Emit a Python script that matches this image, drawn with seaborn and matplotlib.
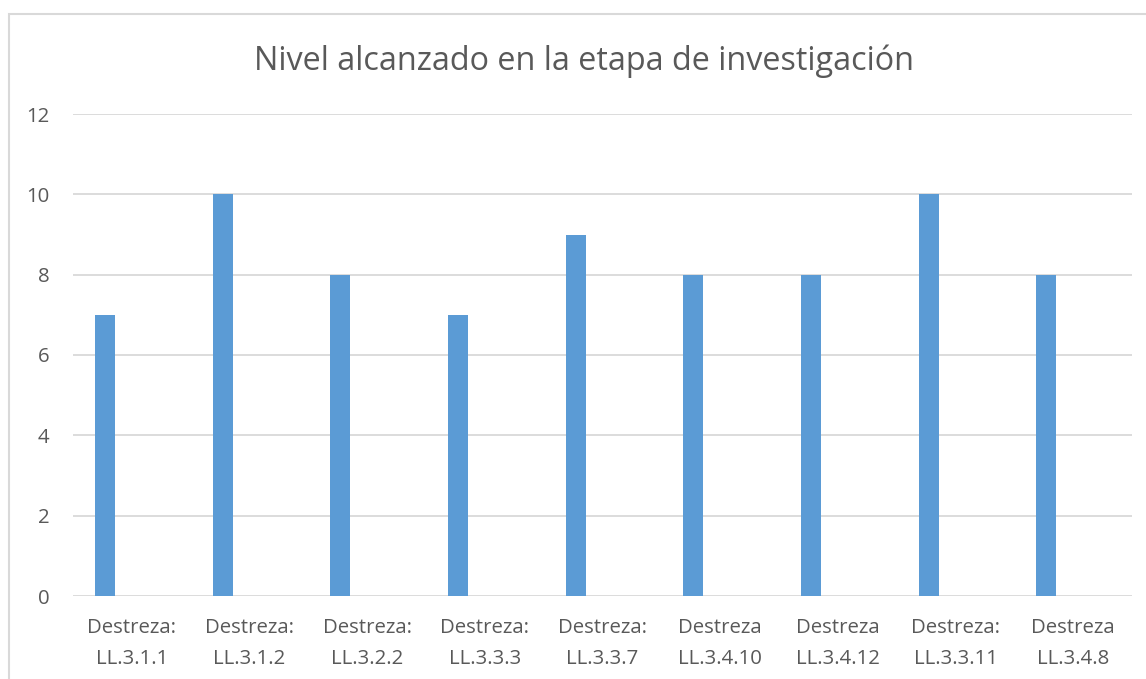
import pandas as pd
import matplotlib.pyplot as plt
import seaborn as sns
from matplotlib.patches import Rectangle

# Datos del grafico
destrezas = [
    "Destreza:\nLL.3.1.1",
    "Destreza:\nLL.3.1.2",
    "Destreza:\nLL.3.2.2",
    "Destreza:\nLL.3.3.3",
    "Destreza:\nLL.3.3.7",
    "Destreza\nLL.3.4.10",
    "Destreza\nLL.3.4.12",
    "Destreza:\nLL.3.3.11",
    "Destreza\nLL.3.4.8",
]
niveles = [7, 10, 8, 7, 9, 8, 8, 10, 8]
yticks = [0, 2, 4, 6, 8, 10, 12]
titulo = "Nivel alcanzado en la etapa de investigación"


def main():
    sns.set_style("white")
    plt.rcParams["font.family"] = ["Open Sans", "DejaVu Sans"]
    gris = "#595959"

    # Serie principal y una serie vacia (como en Excel) para desplazar las barras
    df = pd.DataFrame(
        {
            "destreza": destrezas * 2,
            "nivel": niveles + [float("nan")] * len(niveles),
            "serie": ["nivel"] * len(niveles) + ["vacia"] * len(niveles),
        }
    )

    fig = plt.figure(figsize=(11.46, 6.79), dpi=100)
    fig.patches.append(
        Rectangle((9 / 1146, -0.1), 1.2, 1.1 - 14 / 679, transform=fig.transFigure,
                  fill=False, edgecolor="#D9D9D9", linewidth=1.5)
    )
    ax = fig.add_axes([73 / 1146, 1 - 596 / 679, (1132 - 73) / 1146, (596 - 114) / 679])

    ax.yaxis.grid(True, color="#D9D9D9", linewidth=1.3)
    ax.set_axisbelow(True)
    sns.barplot(
        data=df, x="destreza", y="nivel", hue="serie",
        hue_order=["nivel", "vacia"], order=destrezas,
        palette=["#5B9BD5", "#ED7D31"], dodge=True, width=0.91, gap=0.626,
        legend=False, errorbar=None, saturation=1, linewidth=0, ax=ax,
    )

    ax.set_ylim(0, 12)
    ax.set_xlim(-0.5, len(destrezas) - 0.5)
    ax.set_yticks(yticks)
    ax.set_xlabel("")
    ax.set_ylabel("")
    for s in ax.spines.values():
        s.set_visible(False)
    ax.tick_params(axis="both", length=0, labelsize=14.7, labelcolor=gris)
    ax.tick_params(axis="y", pad=17)
    ax.tick_params(axis="x", pad=16)
    for lbl in ax.get_xticklabels():
        lbl.set_linespacing(1.75)

    fig.text(0.51, 1 - 61 / 679, titulo, ha="center", va="center",
             fontsize=23.3, color=gris)

    fig.savefig("out.png", dpi=100)
    plt.close(fig)


if __name__ == "__main__":
    main()
